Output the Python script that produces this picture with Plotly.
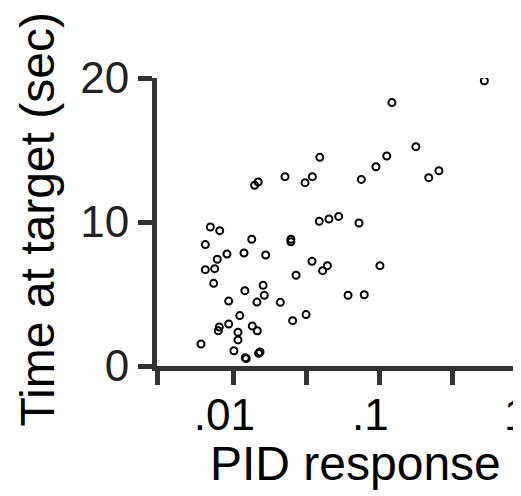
import plotly.graph_objects as go

# PID response (log scale) and time at target (sec)
pid_response = [
    0.524, 0.122, 0.178, 0.1125, 0.0948, 0.0753, 0.218, 0.256, 0.0391, 0.0226,
    0.031, 0.0348, 0.0140, 0.0148, 0.0388, 0.0452, 0.0527, 0.0726, 0.00696, 0.00807,
    0.00643, 0.01337, 0.0248, 0.0248, 0.00905, 0.01184, 0.01667, 0.00777, 0.00643, 0.00745,
    0.00734, 0.0346, 0.0441, 0.0409, 0.101, 0.0269, 0.0160, 0.0163, 0.0120, 0.00930,
    0.01452, 0.0210, 0.0611, 0.0789, 0.01107, 0.0315, 0.0255, 0.0093, 0.00802, 0.00789,
    0.01349, 0.0146, 0.01077, 0.01077, 0.00601, 0.0101, 0.01208, 0.01225, 0.0149, 0.01524,
]
time_at_target = [
    19.81, 18.29, 15.23, 14.58, 13.84, 12.96, 13.08, 13.56, 14.49, 13.15,
    12.73, 13.15, 12.55, 12.78, 10.05, 10.21, 10.39, 9.93, 9.65, 9.40,
    8.43, 8.80, 8.80, 8.63, 7.78, 7.85, 7.71, 7.41, 6.69, 6.76,
    5.74, 7.27, 6.97, 6.62, 6.97, 6.30, 5.60, 4.91, 5.23, 4.51,
    4.44, 4.42, 4.91, 4.95, 3.50, 3.57, 3.15, 2.92, 2.71, 2.45,
    2.78, 2.45, 2.34, 1.81, 1.53, 1.06, 0.58, 0.51, 0.88, 0.97,
]

x_tick_vals = [10 ** -2.5226, 0.01, 10 ** -1.5, 0.1, 10 ** -0.5, 1]
x_tick_text = ["", ".01", "", ".1", "", "1"]
y_tick_vals = [0, 10, 20]
y_tick_text = ["0", "10", "20"]
x_title = "PID response"
y_title = "Time at target (sec)"

FONT = "Liberation Sans, Arial, sans-serif"
AX = "#333333"

fig = go.Figure()
fig.add_trace(go.Scatter(
    x=pid_response, y=time_at_target, mode="markers",
    marker=dict(symbol="circle-open", size=7, color="black",
                line=dict(width=2, color="black")),
    hoverinfo="x+y", showlegend=False,
))

fig.update_layout(
    width=523, height=488,
    margin=dict(l=149, r=0, t=70, b=130, pad=0),
    paper_bgcolor="white", plot_bgcolor="white",
    font=dict(family=FONT, color="black"),
    xaxis=dict(
        type="log", range=[-2.5226, 0.039],
        tickmode="array", tickvals=x_tick_vals, ticktext=x_tick_text,
        showline=True, linewidth=5, linecolor=AX,
        ticks="outside", ticklen=14, tickwidth=5, tickcolor=AX,
        showgrid=False, zeroline=False,
        tickfont=dict(size=44, color="black", family=FONT),
        ticklabelshift=-9, ticklabelstandoff=-8,
    ),
    yaxis=dict(
        range=[0, 20],
        tickmode="array", tickvals=y_tick_vals, ticktext=y_tick_text,
        showline=True, linewidth=5, linecolor=AX,
        ticks="outside", ticklen=14, tickwidth=5, tickcolor=AX,
        showgrid=False, zeroline=False,
        tickfont=dict(size=44, color="#222222", family=FONT),
    ),
    annotations=[
        dict(text=x_title, xref="paper", yref="paper", x=0.531, y=-0.337,
             xanchor="center", yanchor="middle", showarrow=False,
             font=dict(size=48, color="black", family=FONT)),
        dict(text=y_title, xref="paper", yref="paper", x=-0.32, y=0.51,
             xanchor="center", yanchor="middle", showarrow=False, textangle=-90,
             font=dict(size=48, color="black", family=FONT)),
    ],
)

fig.write_html("out.html")
